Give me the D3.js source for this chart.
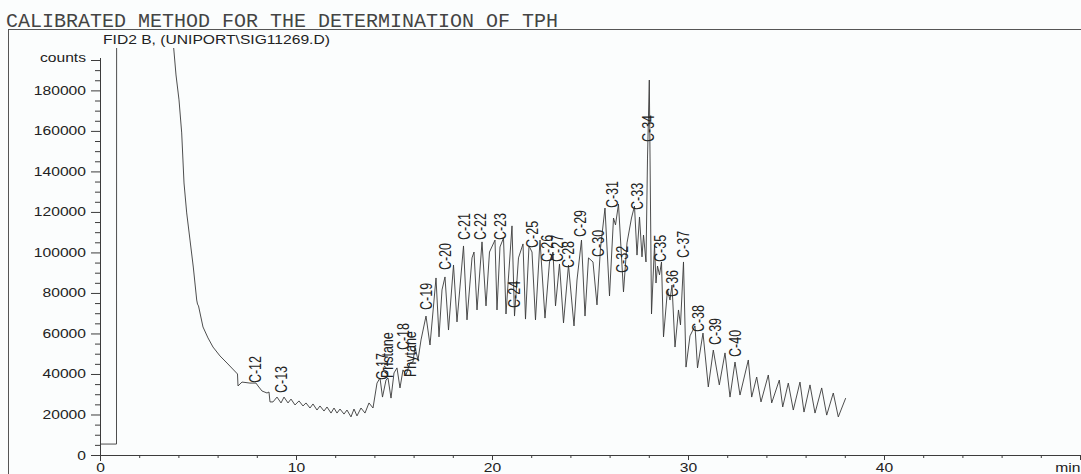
<!DOCTYPE html>
<html><head><meta charset="utf-8">
<script src="https://cdn.jsdelivr.net/npm/d3@7"></script>
<style>
html,body{margin:0;padding:0;background:#fbfdfd;}
svg{display:block;}
</style></head><body>
<svg id="chart" width="1081" height="474"></svg>
<script>
// ---- data ----
const titleText = "CALIBRATED METHOD FOR THE DETERMINATION OF TPH";
const signalText = "FID2 B, (UNIPORT\\SIG11269.D)";

const timeMin = [0, 0.842, 0.867, 3.597,
 3.724, 3.878, 4.031, 4.168, 4.286, 4.423, 4.592, 4.760, 4.934, 4.974, 5.026, 5.255, 5.510, 5.765, 6.122, 6.480, 7.015,
 7.041, 7.245, 7.653, 7.959, 8.061, 8.265, 8.520, 8.622,
 8.673, 8.827, 9.031, 9.235, 9.388, 9.592, 9.745, 9.949, 10.153, 10.357,
 10.510, 10.714, 10.867, 11.071, 11.224, 11.429, 11.582, 11.786, 11.939, 12.092,
 12.245, 12.449, 12.602, 12.806, 12.959, 13.112, 13.316, 13.520, 13.724, 13.929,
 14.133, 14.286, 14.413, 14.592, 14.694, 14.847, 15.000, 15.153, 15.306, 15.459,
 15.612, 15.816, 15.969, 16.071, 16.224, 16.378, 16.633, 16.837, 17.143, 17.296,
 17.449, 17.602, 17.781, 18.036, 18.214, 18.546, 18.724, 18.980, 19.082, 19.235,
 19.490, 19.694, 19.872, 20.153, 20.255, 20.408, 20.587, 20.714, 21.020, 21.148,
 21.352, 21.582, 21.709, 21.888, 22.041, 22.219, 22.449, 22.704, 22.934, 23.112,
 23.240, 23.444, 23.648, 23.903, 24.184, 24.337, 24.566, 24.745, 24.923, 25.153,
 25.357, 25.536, 25.765, 25.995, 26.199, 26.301, 26.454, 26.709, 26.888, 27.117,
 27.270, 27.398, 27.526, 27.653, 27.730, 27.857, 27.934, 28.026, 28.138, 28.291,
 28.367, 28.444, 28.546, 28.648, 28.750, 28.954, 29.082, 29.184, 29.337, 29.515,
 29.617, 29.770, 29.898, 30.102, 30.357, 30.485, 30.765, 31.036, 31.291, 31.597,
 31.888, 32.143, 32.398, 32.653, 33.077, 33.250, 33.505, 33.724, 34.097, 34.270,
 34.658, 34.832, 35.117, 35.372, 35.714, 35.918, 36.224, 36.480, 36.821, 37.077,
 37.413, 37.668, 38.046];

const counts = [5400, 5400, 900000, 900000,
 204900, 187600, 175300, 159000, 134300, 119500, 106100, 92800, 76500, 74500, 73600, 63200, 57800, 53300, 48900, 45400, 40000,
 34100, 36000, 35500, 35500, 34100, 31600, 30600, 31100,
 26200, 26200, 28600, 25700, 28600, 25700, 27600, 24700, 26700, 24200,
 25700, 23200, 25200, 22200, 24200, 21700, 23700, 20700, 23200, 20700,
 22700, 20200, 22200, 18800, 22700, 19300, 23200, 20700, 25700, 23200,
 35500, 38000, 28600, 37000, 38000, 28100, 40500, 43000, 33100, 42000,
 39500, 45400, 45900, 53300, 46900, 56800, 68600, 54300, 87400, 58300,
 81500, 87900, 61700, 93800, 65700, 103200, 66700, 97300, 100200, 71600,
 105200, 73600, 100200, 106100, 71600, 102700, 107100, 69600, 113100, 68600,
 97300, 104200, 67100, 103200, 100200, 66700, 106100, 67600, 95300, 100200,
 73600, 94300, 65200, 93800, 63700, 86400, 106100, 68600, 97300, 95300,
 74100, 102200, 121900, 78500, 117000, 113600, 123900, 80500, 104700, 117000,
 122900, 98700, 117500, 97800, 108600, 95300, 146600, 185100, 69600, 103700,
 84900, 93300, 88900, 95300, 58300, 81500, 76500, 83900, 53300, 71600,
 64200, 95300, 43400, 58800, 63700, 43000, 60200, 33600, 51800, 34600,
 50400, 28600, 45900, 29600, 46900, 28600, 38500, 26200, 39500, 25700,
 37000, 23700, 35500, 22200, 36000, 21200, 34600, 20700, 33100, 19700,
 30600, 18800, 28100];

const peakNames = ["C-12","C-13","C-17","Pristane","C-18","Phytane","C-19","C-20","C-21","C-22","C-23","C-24","C-25","C-26","C-27","C-28","C-29","C-30","C-31","C-32","C-33","C-34","C-35","C-36","C-37","C-38","C-39","C-40"];
const peakTimes = [7.96, 9.27, 14.39, 14.69, 15.51, 15.82, 16.66, 17.65, 18.62, 19.44, 20.41, 21.17, 22.07, 22.81, 23.34, 23.88, 24.54, 25.43, 26.15, 26.66, 27.42, 28.01, 28.62, 29.21, 29.77, 30.56, 31.40, 32.45];
const peakLabelCounts = [35500, 30600, 37000, 38000, 51800, 38500, 71600, 91300, 106100, 106100, 106100, 72600, 102200, 95300, 95300, 92300, 107600, 97800, 121900, 89900, 121000, 154500, 95300, 78000, 97300, 60700, 54300, 48400];

const xMajorTicks = [0, 10, 20, 30, 40];
const xUnitTick = 50;
const xUnitLabel = "min";
const yMajorTicks = [0, 20000, 40000, 60000, 80000, 100000, 120000, 140000, 160000, 180000];
const yUnitTick = 195000;
const yUnitLabel = "counts";

// ---- drawing ----
const svg = d3.select("#chart");
const ink = "#3c3c3c";
const tickFont = "'Liberation Sans', Arial, sans-serif";
const STRETCH = 1.25;

function stretch(sel, k) {
  sel.each(function () {
    const L = this.getComputedTextLength();
    this.setAttribute("textLength", (L * k).toFixed(2));
    this.setAttribute("lengthAdjust", "spacingAndGlyphs");
  });
}

const x = d3.scaleLinear().domain([0, 50]).range([100, 1080]);
const y = d3.scaleLinear().domain([0, 195000]).range([455, 60]);

// frame
svg.append("line").attr("x1", 8.5).attr("x2", 8.5).attr("y1", 29.5).attr("y2", 474)
  .attr("stroke", "#555").attr("stroke-width", 1);
svg.append("line").attr("x1", 8).attr("x2", 1081).attr("y1", 29.5).attr("y2", 29.5)
  .attr("stroke", "#555").attr("stroke-width", 1);

// title
svg.append("text").attr("x", 6).attr("y", 26.5)
  .attr("font-family", "'Liberation Mono', 'Courier New', monospace")
  .attr("font-size", 20).attr("fill", "#444")
  .text(titleText);

const sub = svg.append("text").attr("x", 103).attr("y", 43.5)
  .attr("font-family", tickFont).attr("font-size", 12.5).attr("fill", "#222")
  .text(signalText);
stretch(sub, STRETCH);

// y axis
const yMinor = d3.range(0, 195001, 5000).filter(v => !yMajorTicks.includes(v) && v !== yUnitTick);
svg.append("g").attr("transform", "translate(100,0)")
  .call(d3.axisLeft(y).tickValues(yMinor).tickSize(5).tickFormat(""))
  .call(g => g.select(".domain").remove())
  .selectAll("line").attr("stroke", ink);

const yAx = svg.append("g").attr("transform", "translate(100,0)")
  .call(d3.axisLeft(y).tickValues(yMajorTicks.concat([yUnitTick])).tickSize(9).tickPadding(5)
    .tickFormat(d => d === yUnitTick ? yUnitLabel : String(d)));
yAx.select(".domain").remove();
yAx.selectAll("line").attr("stroke", ink);
yAx.selectAll("text").attr("font-family", tickFont).attr("font-size", 12.5).attr("fill", "#222");
yAx.selectAll(".tick").filter(d => d === yUnitTick).select("text").attr("dy", "0.1em");
stretch(yAx.selectAll("text"), STRETCH);
svg.append("line").attr("x1", 100.5).attr("x2", 100.5).attr("y1", y(yUnitTick) - 2).attr("y2", 461)
  .attr("stroke", ink);

// x axis
const xMinor = d3.range(0, 50, 2).filter(v => v % 10 !== 0);
svg.append("g").attr("transform", "translate(0,455)")
  .call(d3.axisBottom(x).tickValues(xMinor).tickSize(3).tickFormat(""))
  .call(g => g.select(".domain").remove())
  .selectAll("line").attr("stroke", ink);
const xAx = svg.append("g").attr("transform", "translate(0,455)")
  .call(d3.axisBottom(x).tickValues(xMajorTicks.concat([xUnitTick])).tickSize(5).tickPadding(3)
    .tickFormat(d => d === xUnitTick ? xUnitLabel : String(d)));
xAx.select(".domain").remove();
xAx.selectAll("line").attr("stroke", ink);
xAx.selectAll("text").attr("font-family", tickFont).attr("font-size", 12.5).attr("fill", "#222");
xAx.selectAll(".tick").filter(d => d === xUnitTick).select("text")
  .attr("text-anchor", "end").attr("x", 0);
stretch(xAx.selectAll("text"), STRETCH);
svg.append("line").attr("x1", 100).attr("x2", 1080).attr("y1", 455.5).attr("y2", 455.5)
  .attr("stroke", ink);

// trace
svg.append("clipPath").attr("id", "plotclip").append("rect")
  .attr("x", 100).attr("y", 48).attr("width", 981).attr("height", 410);

const pts = timeMin.map((t, i) => [t, counts[i]]);
svg.append("path")
  .attr("clip-path", "url(#plotclip)")
  .attr("d", d3.line().x(d => x(d[0])).y(d => y(d[1]))(pts))
  .attr("fill", "none").attr("stroke", "#3a3a3a").attr("stroke-width", 0.9)
  .attr("stroke-linejoin", "round");

// peak labels (rotated)
svg.append("g").selectAll("text").data(peakNames).join("text")
  .attr("transform", (d, i) => `translate(${x(peakTimes[i])},${y(peakLabelCounts[i])}) scale(${STRETCH},1) rotate(-90)`)
  .attr("dy", "0.35em")
  .attr("text-anchor", "start")
  .attr("font-family", tickFont).attr("font-size", 12.5).attr("fill", "#222")
  .text(d => d);
</script>
</body></html>
